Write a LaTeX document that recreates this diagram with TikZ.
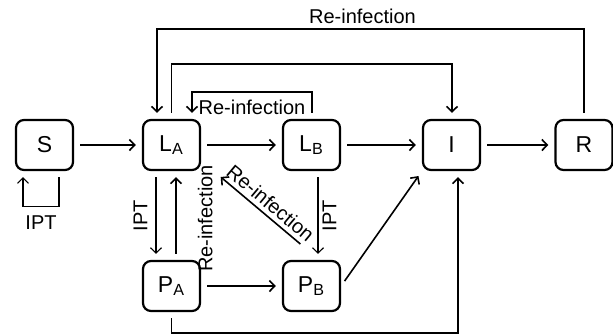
\documentclass[tikz,border=0pt]{standalone}
\usepackage{fontspec}
\setmainfont{Liberation Sans}
\usetikzlibrary{arrows.meta}

\begin{document}
\begin{tikzpicture}[x=0.5pt, y=0.5pt,
	comp/.style={draw, line width=1.1pt, rounded corners=4pt, minimum width=28.5pt, minimum height=25pt, inner sep=0pt, font=\fontsize{11.5}{13}\selectfont},
	flow/.style={->, line width=0.8pt, shorten >=3pt, shorten <=3pt},
	thinflow/.style={->, line width=0.55pt, shorten >=3pt, shorten <=3pt},
	lbl/.style={font=\fontsize{10}{12}\selectfont, inner sep=2pt},
	>={Straight Barb[length=2.7pt,width=5.5pt]}]
	\useasboundingbox (0,0) rectangle (613,334);
	\node[comp] (s) at (44.5,189) {S};
	\node[comp] (la) at (171.5,189) {L\textsubscript{A}};
	\node[comp] (lb) at (311.5,189) {L\textsubscript{B}};
	\node[comp] (i) at (451.5,189) {I};
	\node[comp] (r) at (584,189) {R};
	\node[comp] (pa) at (171.5,48) {P\textsubscript{A}};
	\node[comp] (pb) at (311.5,48) {P\textsubscript{B}};
	
	% main chain
	\draw[flow](s) -- (la);
	\draw[flow](la) -- (lb);
	\draw[flow](lb) -- (i);
	\draw[flow](i) -- (r);
	\draw[flow](pa) -- (pb);
	% S
	\draw[thinflow]([xshift=7.25pt]s.south) -- ++(0,-35) -| node[lbl, below, pos=0.25, yshift=-2.5pt]{IPT} ([xshift=-10.75pt]s.south);
	% L_A
	\draw[thinflow]([xshift=-7.75pt]la.south) -- node[lbl, above, rotate=90, yshift=2pt]{IPT} ([xshift=-7.75pt]pa.north);
	\draw[flow]([shorten <=0pt]la.north) -- ++(0,55) -| ([xshift=0.25pt]i.north);
	% L_B
	\draw[thinflow]([xshift=3.25pt]lb.south) -- node[lbl, below, rotate=90]{IPT} ([xshift=3.25pt]pb.north);
	\draw[flow]([xshift=0.25pt]lb.north) -- ++(0,27) -| node[lbl, below, pos=0.25, yshift=-1.5pt]{Re-infection} ([xshift=10.25pt]la.north);
	% P_A
	\draw[flow]([xshift=2.25pt]pa.north) -- node[lbl, below, rotate=90, yshift=-8.5pt, xshift=-1.5pt]{Re-infection} ([xshift=2.25pt]la.south);
	\draw[flow](pa.south) -- ++(0,-21) -| ([xshift=3.25pt]i.south);
	% P_B
	\draw[flow]([shift={(-6.5,12)}]pb.north) -- node[lbl, sloped, above, xshift=1.5pt]{Re-infection} ([shift={(15,-2)}]la.south east);
	\draw[flow](pb.east) -- (i.south west);
	% R
	\draw[flow](r.north) -- ++(0,90) -| node[lbl, above, pos=0.25, xshift=-4pt]{Re-infection} ([xshift=-7.25pt]la.north);
\end{tikzpicture}
\end{document}
